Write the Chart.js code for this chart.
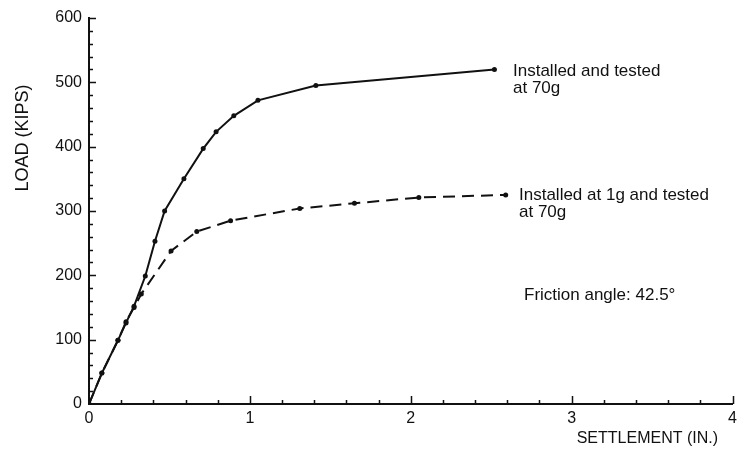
<!DOCTYPE html>
<html lang="en">
<head>
    <meta charset="UTF-8">
    <title>Load vs Settlement</title>
    <style>
        html, body { margin: 0; padding: 0; background: #fff; }
        #wrap { width: 742px; height: 452px; }
    </style>
    <script src="https://cdn.jsdelivr.net/npm/chart.js"></script>
</head>
<body>
    <div id="wrap"><canvas id="loadChart" width="742" height="452"></canvas></div>

    <script>
        // settlement (in.) / load (kips)
        const settleTested70 = [0, 0.08, 0.18, 0.23, 0.28, 0.35, 0.41, 0.47, 0.59, 0.71, 0.79, 0.90, 1.05, 1.41, 2.52];
        const loadTested70 = [0, 48, 99, 126, 152, 199, 253, 300, 350, 397, 423, 448, 472, 495, 520];

        const settleInstalled1g = [0, 0.08, 0.18, 0.23, 0.28, 0.325, 0.51, 0.67, 0.88, 1.31, 1.65, 2.05, 2.59];
        const loadInstalled1g = [0, 48, 99, 128, 150, 171, 238, 268, 285, 304, 312, 321, 325];

        const xTicks = [0, 1, 2, 3, 4];
        const yTicks = [0, 100, 200, 300, 400, 500, 600];

        const seriesLabels = [
            ['Installed and tested', 'at 70g'],
            ['Installed at 1g and tested', 'at 70g']
        ];
        const noteText = 'Friction angle: 42.5°';

        const FONT = '"Liberation Sans", Arial, sans-serif';

        function toPoints(xs, ys) {
            return xs.map((x, i) => ({ x: x, y: ys[i] }));
        }

        // tick marks (major + minor, pointing inwards) and the free text
        const decorPlugin = {
            id: 'decor',
            afterDraw(chart) {
                const ctx = chart.ctx;
                const xs = chart.scales.x, ys = chart.scales.y;
                const area = chart.chartArea;
                ctx.save();
                ctx.strokeStyle = '#111';
                ctx.lineWidth = 1.5;
                ctx.beginPath();
                for (let i = 1; i <= 30; i++) {
                    const py = Math.round(ys.getPixelForValue(i * 20)) + 0.5;
                    const len = i % 5 === 0 ? 7 : 4;
                    ctx.moveTo(area.left, py);
                    ctx.lineTo(area.left + len, py);
                }
                for (let i = 1; i <= 20; i++) {
                    const px = Math.round(xs.getPixelForValue(i * 0.2)) + 0.5;
                    const len = i % 5 === 0 ? 8 : 4;
                    ctx.moveTo(px, area.bottom);
                    ctx.lineTo(px, area.bottom - len);
                }
                ctx.stroke();

                ctx.fillStyle = '#111';
                ctx.textBaseline = 'middle';

                // y title
                ctx.save();
                ctx.font = '18px ' + FONT;
                ctx.translate(23, 138);
                ctx.rotate(-Math.PI / 2);
                ctx.textAlign = 'center';
                ctx.fillText('LOAD (KIPS)', 0, 0);
                ctx.restore();

                // x title
                ctx.font = '16px ' + FONT;
                ctx.textAlign = 'right';
                ctx.fillText('SETTLEMENT (IN.)', 718, 439);

                // curve labels
                ctx.textAlign = 'left';
                ctx.font = '17px ' + FONT;
                ctx.fillText(seriesLabels[0][0], 513, 71);
                ctx.fillText(seriesLabels[0][1], 513, 88);
                ctx.fillText(seriesLabels[1][0], 519, 195);
                ctx.fillText(seriesLabels[1][1], 519, 212);
                ctx.fillText(noteText, 524, 295);
                ctx.restore();
            }
        };

        const ctx = document.getElementById('loadChart').getContext('2d');
        const loadChart = new Chart(ctx, {
            type: 'scatter',
            data: {
                datasets: [{
                    label: seriesLabels[0].join(' '),
                    data: toPoints(settleTested70, loadTested70),
                    showLine: true,
                    borderColor: '#111',
                    borderWidth: 2,
                    backgroundColor: '#111',
                    pointRadius: 2.5,
                    pointBorderWidth: 0,
                    tension: 0
                }, {
                    label: seriesLabels[1].join(' '),
                    data: toPoints(settleInstalled1g, loadInstalled1g),
                    showLine: true,
                    borderColor: '#111',
                    borderWidth: 2,
                    borderDash: [12, 7],
                    backgroundColor: '#111',
                    pointRadius: 2.5,
                    pointBorderWidth: 0,
                    tension: 0
                }]
            },
            options: {
                responsive: false,
                animation: false,
                layout: { padding: { left: 0, top: 18, right: 5, bottom: 0 } },
                plugins: {
                    legend: { display: false },
                    tooltip: { enabled: false }
                },
                scales: {
                    x: {
                        type: 'linear',
                        min: 0,
                        max: 4,
                        afterFit(scale) { scale.height = 48; },
                        afterBuildTicks(scale) { scale.ticks = xTicks.map(v => ({ value: v })); },
                        grid: { display: false, drawTicks: false },
                        border: { display: true, color: '#111', width: 2 },
                        ticks: {
                            color: '#111',
                            padding: 5,
                            maxRotation: 0,
                            autoSkip: false,
                            font: { family: FONT, size: 16 }
                        }
                    },
                    y: {
                        type: 'linear',
                        min: 0,
                        max: 600,
                        afterFit(scale) { scale.width = 89; },
                        afterBuildTicks(scale) { scale.ticks = yTicks.map(v => ({ value: v })); },
                        grid: { display: false, drawTicks: false },
                        border: { display: true, color: '#111', width: 2 },
                        ticks: {
                            color: '#111',
                            padding: 7,
                            font: { family: FONT, size: 16 }
                        }
                    }
                }
            },
            plugins: [decorPlugin]
        });
    </script>
</body>
</html>
